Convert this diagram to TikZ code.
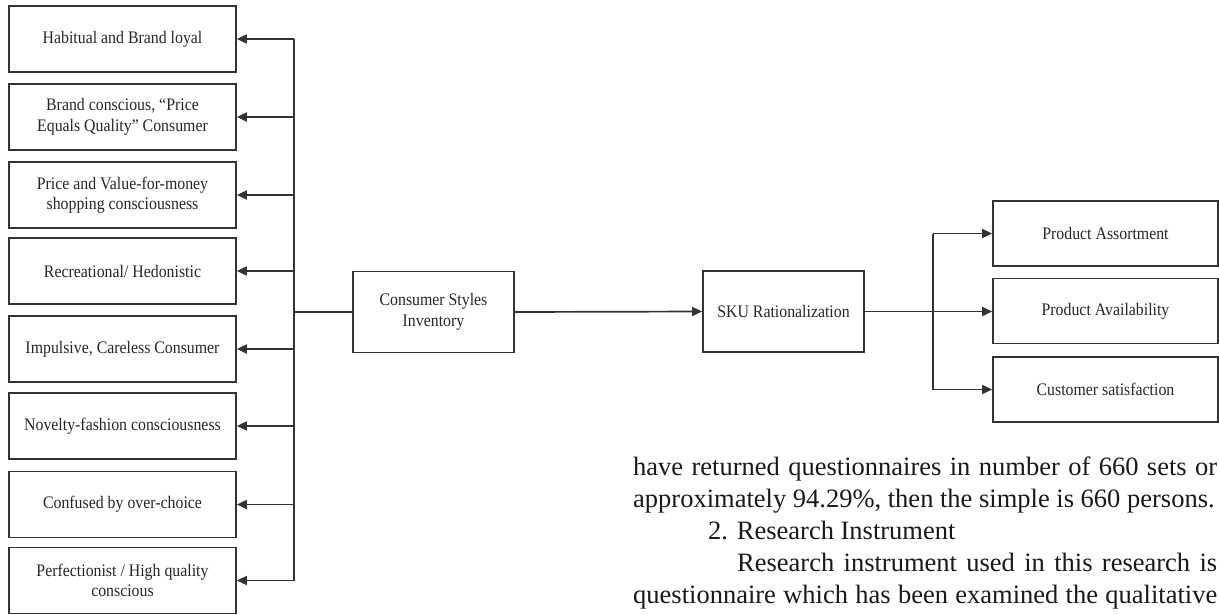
\documentclass[tikz,border=0pt]{standalone}
\usepackage{fontspec}
\setmainfont{Liberation Serif}
\newfontfamily\boxfont[FakeStretch=0.9]{Liberation Serif}
\usetikzlibrary{arrows.meta}
\begin{document}
\begin{tikzpicture}[x=1pt,y=-1pt,
  box/.style={draw=black!80, line width=1.7pt, minimum width=227pt, minimum height=66pt,
    inner sep=0pt, align=center, text=black!85, font=\boxfont\fontsize{17.6}{20.5}\selectfont},
  midbox/.style={box, minimum width=161pt, minimum height=81pt},
  rbox/.style={box, minimum width=225pt, minimum height=65pt},
  lnk/.style={draw=black!80, line width=1.7pt},
  arr/.style={lnk, -{Triangle[length=10pt,width=9pt]}},
  body/.style={anchor=base west, inner sep=0pt, text=black!90, font=\fontsize{26.5}{32}\selectfont}]
\useasboundingbox (0,0) rectangle (1219,614);

% left column
\node[box] (b1) at (122.5,39)   {Habitual and Brand loyal};
\node[box] (b2) at (122.5,117)  {Brand conscious, “Price\\Equals Quality” Consumer};
\node[box] (b3) at (122.5,195)  {Price and Value-for-money\\shopping consciousness};
\node[box] (b4) at (122.5,271)  {Recreational/ Hedonistic};
\node[box] (b5) at (122.5,349)  {Impulsive, Careless Consumer};
\node[box] (b6) at (122.5,426)  {Novelty-fashion consciousness};
\node[box] (b7) at (122.5,504.5){Confused by over-choice};
\node[box] (b8) at (122.5,580.5){Perfectionist / High quality\\conscious};

% middle
\node[midbox] (csi) at (433.5,312) {Consumer Styles\\Inventory};
\node[midbox] (sku) at (783.5,311.5) {SKU Rationalization};

% right column
\node[rbox] (pA) at (1105.5,233.5) {Product Assortment};
\node[rbox] (pB) at (1105.5,311)   {Product Availability};
\node[rbox] (pC) at (1105.5,389.5) {Customer satisfaction};

% left bus
\coordinate (lbus) at (294,0);
\draw[lnk] (lbus |- b1.east) -- (lbus |- b8.east);
\foreach \n in {b1,b2,b3,b4,b5,b6,b7,b8}
  \draw[arr] (lbus |- \n.east) -- (\n.east);
\draw[lnk] (lbus |- csi.west) -- (csi.west);

% middle arrows
\draw[arr] (csi.east) -- (sku.west);
\draw[arr] (sku.east) -- (sku.east -| pB.west);

% right bus
\coordinate (rbus) at (933,0);
\draw[lnk] (rbus |- pA.west) -- (rbus |- pC.west);
\draw[arr] (rbus |- pA.west) -- (pA.west);
\draw[arr] (rbus |- pC.west) -- (pC.west);

% running text
\node[body] (t1) at (633,475) {\makebox[584pt][s]{have returned questionnaires in number of 660 sets or}};
\node[body] (t2) at (633,507) {approximately 94.29\%, then the simple is 660 persons.};
\node[body] (t3) at (708,539) {2. Research Instrument};
\node[body] (t4) at (737,571) {\makebox[480pt][s]{Research instrument used in this research is}};
\node[body] (t5) at (633,603) {\makebox[584pt][s]{questionnaire which has been examined the qualitative}};
\end{tikzpicture}
\end{document}
